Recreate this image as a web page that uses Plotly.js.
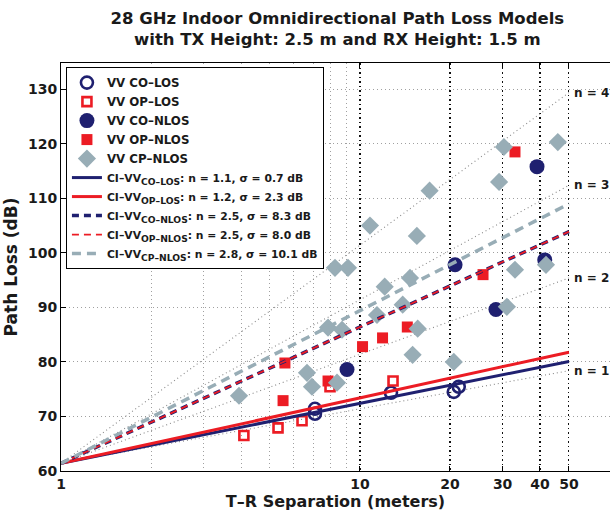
<!DOCTYPE html>
<html>
<head>
<meta charset="utf-8">
<script src="https://cdn.plot.ly/plotly-3.0.1.min.js"></script>
<style>html,body{margin:0;padding:0;background:#fff;}#chart{width:610px;height:514px;}</style>
</head>
<body>
<div id="chart"></div>
<script>
// ---- data ----
const coLosD  = [7.07, 7.07, 12.7, 20.6, 21.4];
const coLosPL = [71.4, 70.5, 74.35, 74.5, 75.45];

const opLosD  = [4.09, 5.32, 6.40, 7.94, 12.9];
const opLosPL = [66.5, 67.9, 69.2, 75.45, 76.5];

const coNlosD  = [9.05, 20.8, 28.5, 39.1, 41.5];
const coNlosPL = [78.6, 97.8, 89.6, 115.8, 98.7];

const opNlosD  = [5.53, 5.61, 7.82, 10.2, 11.9, 14.4, 25.8, 33.0];
const opNlosPL = [72.9, 79.8, 76.5, 82.8, 84.4, 86.4, 96.0, 118.5];

const cpNlosD  = [3.94, 6.65, 6.91, 8.38, 7.82, 8.71, 8.25, 9.12, 10.8, 11.4, 12.1, 13.9, 14.7, 15.0, 15.5, 15.6, 17.1, 20.6, 29.2, 30.3, 31.0, 33.0, 41.9, 45.9];
const cpNlosPL = [73.8, 78.0, 75.45, 76.2, 86.3, 85.9, 97.25, 97.25, 105.0, 88.6, 93.8, 90.5, 95.4, 81.3, 103.1, 86.1, 111.4, 80.0, 113.0, 119.4, 90.1, 96.9, 97.8, 120.3];

// CI model lines (free-space anchor at 1 m, 28 GHz)
const fspl1m = 61.4;
const modelD = [1, 50];
const ciNames = ['CO\u2013LOS', 'OP\u2013LOS', 'CO\u2013NLOS', 'OP\u2013NLOS', 'CP\u2013NLOS'];
const ciN     = [1.1, 1.2, 2.5, 2.5, 2.8];
const ciSigma = ['0.7', '2.3', '8.3', '8.0', '10.1'];
const refN = [1, 2, 3, 4];

const xTickVals = [1, 10, 20, 30, 40, 50];
const xMinorVals = [2, 3, 4, 5, 6, 7, 8, 9];
const yTickVals = [60, 70, 80, 90, 100, 110, 120, 130];

// ---- styling ----
const NAVY = '#1f2070';
const RED = '#ec1c24';
const GREY = '#98adb6';
const FONT = 'DejaVu Sans, Verdana, sans-serif';
const TXT = '#1a1a1a';

function ci(n) { return modelD.map(d => fspl1m + 10 * n * Math.log10(d)); }
function mName(s) { return '<span style="font-size:11.8px">' + s + '</span>'; }

const traces = [];
// reference slope lines (dotted)
refN.forEach(n => traces.push({
  x: modelD, y: ci(n), mode: 'lines', showlegend: false, hoverinfo: 'skip',
  line: {color: '#8a8a8a', width: 1.1, dash: '1px,3px'}
}));

traces.push({x: coLosD, y: coLosPL, mode: 'markers', name: mName('VV CO\u2013LOS'),
  marker: {symbol: 'circle-open', size: 12, color: NAVY, line: {width: 2.6, color: NAVY}}});
traces.push({x: opLosD, y: opLosPL, mode: 'markers', name: mName('VV OP\u2013LOS'),
  marker: {symbol: 'square-open', size: 9, color: RED, line: {width: 2.6, color: RED}}});
traces.push({x: coNlosD, y: coNlosPL, mode: 'markers', name: mName('VV CO\u2013NLOS'),
  marker: {symbol: 'circle', size: 15, color: NAVY}});
traces.push({x: opNlosD, y: opNlosPL, mode: 'markers', name: mName('VV OP\u2013NLOS'),
  marker: {symbol: 'square', size: 11, color: RED}});
traces.push({x: cpNlosD, y: cpNlosPL, mode: 'markers', name: mName('VV CP\u2013NLOS'),
  marker: {symbol: 'diamond', size: 14, color: GREY}});

const ciStyle = [
  {color: NAVY, width: 3, dash: 'solid'},
  {color: RED, width: 3, dash: 'solid'},
  {color: NAVY, width: 3.5, dash: '7px,5px'},
  {color: RED, width: 1.8, dash: '7px,5px'},
  {color: GREY, width: 3.5, dash: '9px,6px'}
];
ciN.forEach((n, i) => traces.push({
  x: modelD, y: ci(n), mode: 'lines',
  name: '<span style="font-size:10.8px">CI\u2013VV</span><sub><span style="font-size:9.2px">' + ciNames[i] +
        '</span></sub><span style="font-size:10.8px">: n = ' + n.toFixed(1) + ', \u03c3 = ' + ciSigma[i] + ' dB</span>',
  line: ciStyle[i]
}));

const annotations = refN.map(n => ({
  x: Math.log10(50), y: ci(n)[1], xref: 'x', yref: 'y', text: 'n = ' + n,
  showarrow: false, xanchor: 'left', yanchor: 'middle', xshift: 3,
  font: {family: FONT, size: 12, color: TXT, weight: 'bold'}
}));

const layout = {
  width: 610, height: 514,
  margin: {l: 61, r: 0, t: 63, b: 43},
  paper_bgcolor: '#fff', plot_bgcolor: '#fff',
  font: {family: FONT, size: 14, color: TXT, weight: 'bold'},
  title: {
    text: '28 GHz Indoor Omnidirectional Path Loss Models<br>with TX Height: 2.5 m and RX Height: 1.5 m',
    font: {family: FONT, size: 16.5, color: TXT, weight: 'bold'},
    x: 0.553, xanchor: 'center', yref: 'container', y: 0.954, yanchor: 'top'
  },
  xaxis: {
    type: 'log', range: [0, Math.log10(68.6)],
    tickvals: xTickVals, ticktext: xTickVals.map(String),
    ticks: 'inside', ticklen: 5, tickcolor: '#000',
    showline: true, linecolor: '#000', linewidth: 1, mirror: 'ticks',
    showgrid: true, gridcolor: '#111', griddash: '1.5px,3px', gridwidth: 1.1,
    minor: {tickvals: xMinorVals, showgrid: true, gridcolor: '#a0a0a0', griddash: '1px,3px', gridwidth: 1, ticks: ''},
    zeroline: false,
    tickfont: {family: FONT, size: 14, color: TXT, weight: 'bold'},
    title: {text: 'T\u2013R Separation (meters)', standoff: 4,
      font: {family: FONT, size: 16, color: TXT, weight: 'bold'}}
  },
  yaxis: {
    range: [60, 134.8],
    tickvals: yTickVals,
    ticks: 'inside', ticklen: 5, tickcolor: '#000',
    showline: true, linecolor: '#000', linewidth: 1,
    showgrid: true, gridcolor: '#a0a0a0', griddash: '1px,3px', gridwidth: 1,
    zeroline: false,
    tickfont: {family: FONT, size: 14, color: TXT, weight: 'bold'},
    title: {text: 'Path Loss (dB)', standoff: 6,
      font: {family: FONT, size: 17, color: TXT, weight: 'bold'}}
  },
  legend: {
    x: 0.009, y: 0.99, xanchor: 'left', yanchor: 'top',
    bgcolor: '#fff', bordercolor: '#000', borderwidth: 1,
    font: {family: FONT, size: 12, color: TXT, weight: 'bold'},
    tracegroupgap: 0, itemwidth: 30
  },
  annotations: annotations,
  showlegend: true
};

Plotly.newPlot('chart', traces, layout, {displayModeBar: false, staticPlot: true});
</script>
</body>
</html>
